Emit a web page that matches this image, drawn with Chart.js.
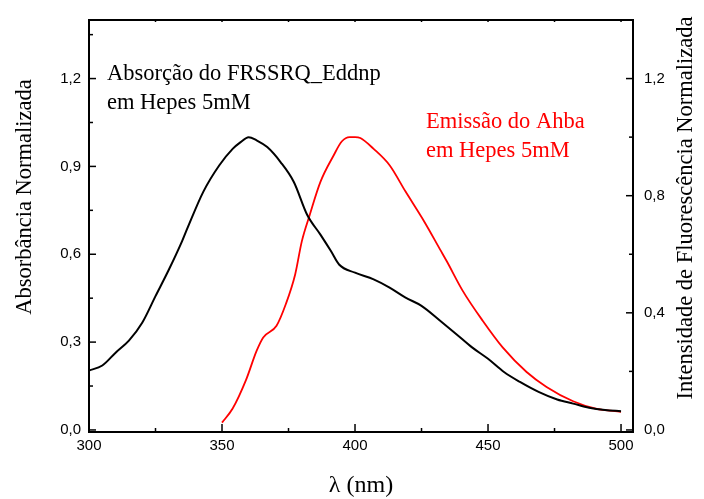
<!DOCTYPE html>
<html>
<head>
<meta charset="utf-8">
<script src="https://cdn.jsdelivr.net/npm/chart.js@4/dist/chart.umd.min.js"></script>
<style>
  html, body { margin: 0; padding: 0; background: #fff; }
</style>
</head>
<body>
<canvas id="myChart" width="704" height="499"></canvas>
<script>
// absorption of FRSSRQ_Eddnp (left axis)
const absWavelength = [300, 305, 310, 315, 320, 325, 330, 335, 337, 343, 349, 354, 357, 360, 363, 367, 372, 377, 382, 387, 391, 394, 400, 407, 413, 419, 425, 432, 438, 444, 450, 456, 462, 469, 476, 482, 488, 494, 500];
const absValues = [0.203, 0.22, 0.264, 0.305, 0.366, 0.457, 0.547, 0.645, 0.689, 0.814, 0.904, 0.96, 0.983, 1.0, 0.989, 0.966, 0.915, 0.847, 0.735, 0.667, 0.61, 0.565, 0.537, 0.514, 0.486, 0.452, 0.424, 0.373, 0.328, 0.282, 0.243, 0.198, 0.164, 0.13, 0.104, 0.09, 0.076, 0.068, 0.064];

// emission of Ahba (right axis)
const emWavelength = [350, 354, 359, 363, 365.5, 370.5, 374, 377.5, 380, 383, 387, 392, 395, 398, 400, 402, 407, 413, 419, 426, 432, 434.5, 440.5, 448, 455.5, 464.5, 472, 482, 490.5, 500];
const emValues = [0.025, 0.073, 0.17, 0.27, 0.316, 0.356, 0.43, 0.531, 0.644, 0.735, 0.847, 0.938, 0.985, 1.0, 1.0, 0.997, 0.96, 0.904, 0.814, 0.712, 0.616, 0.576, 0.475, 0.373, 0.282, 0.198, 0.147, 0.098, 0.073, 0.062];

const xTicks = [300, 350, 400, 450, 500];
const leftTicks = [0, 0.3, 0.6, 0.9, 1.2];
const rightTicks = [0, 0.4, 0.8, 1.2];

const serif = "'Liberation Serif', 'Times New Roman', serif";
const sans = "'Liberation Sans', Arial, sans-serif";

const comma = (v) => v.toFixed(1).replace(".", ",");

// frame, inward ticks, axis titles and the two captions
const decorations = {
  id: "decorations",
  afterDraw(chart) {
    const { ctx, chartArea: a, scales } = chart;
    ctx.save();
    ctx.strokeStyle = "#000";
    ctx.lineWidth = 2;
    ctx.strokeRect(a.left, a.top, a.right - a.left, a.bottom - a.top);

    ctx.lineWidth = 1.5;
    const line = (x1, y1, x2, y2) => {
      ctx.beginPath();
      ctx.moveTo(x1, y1);
      ctx.lineTo(x2, y2);
      ctx.stroke();
    };
    for (let i = 0; i <= 8; i++) {
      const x = scales.x.getPixelForValue(300 + i * 25);
      line(x, a.bottom, x, a.bottom - (i % 2 === 0 ? 8 : 4));
      line(x, a.top, x, a.top + 2);
    }
    for (let i = 0; i <= 9; i++) {
      const y = scales.y.getPixelForValue(i * 0.15);
      line(a.left, y, a.left + (i % 2 === 0 ? 7 : 4), y);
    }
    for (let i = 0; i <= 7; i++) {
      const y = scales.y2.getPixelForValue(i * 0.2);
      line(a.right, y, a.right - (i % 2 === 0 ? 7 : 4), y);
    }

    ctx.fillStyle = "#000";
    ctx.font = "22.5px " + serif;
    ctx.textAlign = "center";
    ctx.textBaseline = "alphabetic";

    ctx.save();
    ctx.translate(31, 197);
    ctx.rotate(-Math.PI / 2);
    ctx.fillText("Absorbância Normalizada", 0, 0);
    ctx.restore();

    ctx.save();
    ctx.translate(692, 208);
    ctx.rotate(-Math.PI / 2);
    ctx.fillText("Intensidade de Fluorescência Normalizada", 0, 0);
    ctx.restore();

    ctx.font = "24px " + serif;
    ctx.fillText("λ (nm)", 361, 492);

    ctx.font = "22.5px " + serif;
    ctx.textAlign = "left";
    ctx.fillText("Absorção do FRSSRQ_Eddnp", 107, 80);
    ctx.fillText("em Hepes 5mM", 107, 109);
    ctx.fillStyle = "#ff0000";
    ctx.fillText("Emissão do Ahba", 426, 128);
    ctx.fillText("em Hepes 5mM", 426, 157);
    ctx.restore();
  },
};

const ctx = document.getElementById("myChart").getContext("2d");
const myChart = new Chart(ctx, {
  type: "line",
  data: {
    datasets: [
      {
        label: "Absorção",
        data: absWavelength.map((x, i) => ({ x, y: absValues[i] })),
        borderColor: "#000",
        borderWidth: 2,
        pointRadius: 0,
        cubicInterpolationMode: "monotone",
        yAxisID: "y",
      },
      {
        label: "Emissão",
        data: emWavelength.map((x, i) => ({ x, y: emValues[i] })),
        borderColor: "#ff0000",
        borderWidth: 1.8,
        pointRadius: 0,
        cubicInterpolationMode: "monotone",
        yAxisID: "y2",
      },
    ],
  },
  options: {
    responsive: false,
    animation: false,
    layout: { padding: { top: 17, left: 0, right: 0, bottom: 0 } },
    plugins: { legend: { display: false }, tooltip: { enabled: false } },
    scales: {
      x: {
        type: "linear",
        min: 300,
        max: 504.5,
        grid: { display: false, drawTicks: false },
        border: { display: false },
        afterBuildTicks: (s) => { s.ticks = xTicks.map((value) => ({ value })); },
        afterFit: (s) => { s.height = 67; },
        ticks: { color: "#000", font: { family: sans, size: 15 }, padding: 5, maxRotation: 0, callback: (v) => String(v) },
      },
      y: {
        position: "left",
        min: -0.007,
        max: 1.4,
        grid: { display: false, drawTicks: false },
        border: { display: false },
        afterBuildTicks: (s) => { s.ticks = leftTicks.map((value) => ({ value })); },
        afterFit: (s) => { s.width = 89; },
        ticks: { color: "#000", font: { family: sans, size: 15 }, padding: 8, callback: (v) => comma(v) },
      },
      y2: {
        position: "right",
        min: -0.007,
        max: 1.4,
        grid: { display: false, drawTicks: false },
        border: { display: false },
        afterBuildTicks: (s) => { s.ticks = rightTicks.map((value) => ({ value })); },
        afterFit: (s) => { s.width = 71; },
        ticks: { color: "#000", font: { family: sans, size: 15 }, padding: 11, callback: (v) => comma(v) },
      },
    },
  },
  plugins: [decorations],
});
</script>
</body>
</html>
